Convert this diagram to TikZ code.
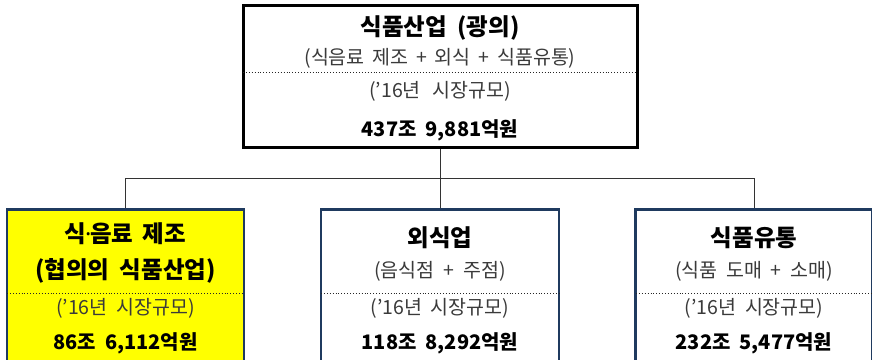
\documentclass[tikz,border=0pt]{standalone}
\usepackage{fontspec}
\setmainfont{Noto Sans CJK KR}
\newfontfamily\latinfont{Noto Sans}
\definecolor{navy}{HTML}{1F3A5F}
\definecolor{txtgray}{HTML}{3A3A3A}
\definecolor{boxyellow}{HTML}{FFFF00}
\tikzset{
  topbox/.style={draw=black, line width=3pt, fill=white},
  subbox/.style={draw=navy, line width=2.6pt},
  sep/.style={dotted, line width=0.9pt, black!85},
  conn/.style={draw=black!80, line width=1pt},
  ttl/.style={font=\fontsize{23.5}{27}\selectfont\bfseries, text=black, inner sep=0pt},
  sub/.style={font=\fontsize{19.5}{23}\selectfont, text=txtgray, inner sep=0pt},
  amt/.style={font=\fontsize{20}{24}\selectfont\bfseries, text=black, inner sep=0pt},
}
\newcommand{\gap}{\hspace{0.45em}}
\begin{document}
\begin{tikzpicture}[x=1pt,y=-1pt]
\useasboundingbox (0,0) rectangle (872,359);
\clip (0,0) rectangle (872,359);
% top box
\node[topbox, minimum width=394pt, minimum height=142pt, inner sep=0pt] (top) at (440,76) {};
\draw[sep] (243,72) -- (637,72);
\node[ttl] (t1) at (440,28) {식품산업\gap(광의)};
\node[sub] (t2) at (440,58) {(식음료\hspace{0.4em}제조\hspace{0.4em}+\hspace{0.4em}외식\hspace{0.4em}+\hspace{0.4em}식품유통)};
\node[sub] (t3) at (440,91) {('16년\hspace{0.6em}시장규모)};
\node[amt] (t4) at (440,130) {437조\gap 9,881억원};
% bottom boxes
\node[subbox, fill=boxyellow, minimum width=237pt, minimum height=180pt, inner sep=0pt, anchor=north] (a) at (125.5,208) {};
\node[subbox, fill=white, minimum width=238pt, minimum height=180pt, inner sep=0pt, anchor=north] (b) at (440,208) {};
\node[subbox, fill=white, minimum width=237pt, minimum height=180pt, inner sep=0pt, anchor=north] (c) at (754,208) {};
\draw[sep] (7,293) -- (244,293);
\draw[sep] (321,293) -- (559,293);
\draw[sep] (636,293) -- (872,293);
% connectors
\coordinate (j) at (440,178);
\coordinate (ja) at (125.5,178);
\coordinate (jc) at (754,178);
\draw[conn] (top.south) -- (j);
\draw[conn] (ja) -- (jc);
\draw[conn] (ja) -- (a.north);
\draw[conn] (j) -- (b.north);
\draw[conn] (jc) -- (c.north);
% left texts
\node[ttl] (a1) at (125.5,234) {식{\latinfont\hspace{-0.05em}·\hspace{-0.05em}}음료\hspace{0.4em}제조};
\node[ttl] (a2) at (125.5,271) {(협의의\gap 식품산업)};
\node[sub] (a3) at (125.5,308) {('16년\gap 시장규모)};
\node[amt] (a4) at (125.5,343) {86조\gap 6,112억원};
% middle texts
\node[ttl] (b1) at (440,238) {외식업};
\node[sub] (b2) at (440,271) {(음식점\gap +\gap 주점)};
\node[sub] (b3) at (440,308) {('16년\gap 시장규모)};
\node[amt] (b4) at (440,343) {118조\gap 8,292억원};
% right texts
\node[ttl] (c1) at (754,238) {식품유통};
\node[sub] (c2) at (754,271) {(식품\gap 도매\gap +\gap 소매)};
\node[sub] (c3) at (754,308) {('16년\gap 시장규모)};
\node[amt] (c4) at (754,343) {232조\gap 5,477억원};
\end{tikzpicture}
\end{document}
